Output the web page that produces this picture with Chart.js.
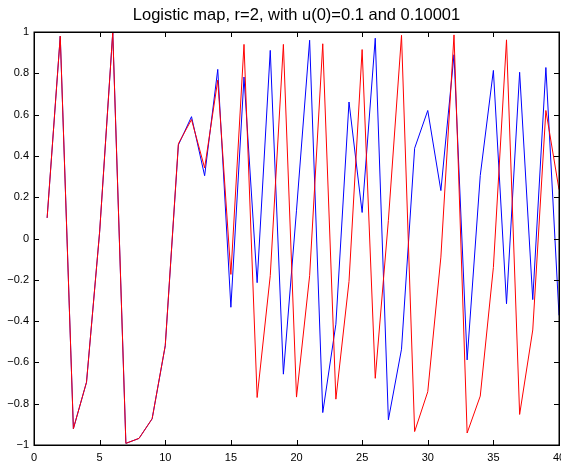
<!DOCTYPE html>
<html>
<head>
<meta charset="utf-8">
<script src="https://cdn.jsdelivr.net/npm/chart.js@4/dist/chart.umd.min.js"></script>
<style>
  html, body { margin: 0; padding: 0; background: #ffffff; }
  #wrap { width: 561px; height: 464px; position: relative; }
</style>
</head>
<body>
<div id="wrap"><canvas id="c" width="561" height="464"></canvas></div>
<script>
// ---- data ----
const steps = [1,2,3,4,5,6,7,8,9,10,11,12,13,14,15,16,17,18,19,20,21,22,23,24,25,26,27,28,29,30,31,32,33,34,35,36,37,38,39,40];
const seriesBlue = [0.1, 0.98, -0.921, -0.696, 0.032, 0.998, -0.992, -0.968, -0.873, -0.52, 0.453, 0.590, 0.304, 0.819, -0.333, 0.782, -0.214, 0.911, -0.657, 0.137, 0.960, -0.843, -0.415, 0.661, 0.126, 0.970, -0.878, -0.536, 0.437, 0.620, 0.232, 0.890, -0.588, 0.305, 0.814, -0.316, 0.805, -0.296, 0.828, -0.372];
const seriesRed = [0.1, 0.98, -0.921, -0.696, 0.032, 0.998, -0.992, -0.968, -0.873, -0.518, 0.459, 0.576, 0.342, 0.767, -0.174, 0.940, -0.770, -0.180, 0.940, -0.768, -0.180, 0.943, -0.778, -0.208, 0.915, -0.677, 0.088, 0.984, -0.935, -0.742, -0.090, 0.986, -0.942, -0.763, -0.140, 0.962, -0.852, -0.443, 0.620, 0.237];
const xTickValues = [0, 5, 10, 15, 20, 25, 30, 35, 40];
const yTickValues = [-1, -0.8, -0.6, -0.4, -0.2, 0, 0.2, 0.4, 0.6, 0.8, 1];
const titleText = 'Logistic map, r=2, with u(0)=0.1 and 0.10001';

const toPoints = (ys) => steps.map((x, i) => ({ x: x, y: ys[i] }));

const fmtY = (v) => {
  const r = Math.round(v * 10) / 10;
  if (r === 0) return '0';
  return (r < 0 ? '\u2212' : '') + String(Math.abs(r));
};

// Box + inward ticks on all four sides (MATLAB style)
const boxPlugin = {
  id: 'boxTicks',
  afterDatasetsDraw(chart) {
    const { ctx, chartArea: a, scales } = chart;
    const xs = scales.x, ys = scales.y;
    const L = 5;
    ctx.save();
    ctx.strokeStyle = '#000';
    ctx.lineWidth = 1;
    ctx.beginPath();
    xTickValues.forEach(v => {
      const px = Math.round(xs.getPixelForValue(v)) + 0.5;
      ctx.moveTo(px, a.bottom); ctx.lineTo(px, a.bottom - L);
      ctx.moveTo(px, a.top); ctx.lineTo(px, a.top + L);
    });
    yTickValues.forEach(v => {
      const py = Math.round(ys.getPixelForValue(v)) + 0.5;
      ctx.moveTo(a.left, py); ctx.lineTo(a.left + L, py);
      ctx.moveTo(a.right, py); ctx.lineTo(a.right - L, py);
    });
    ctx.stroke();
    ctx.lineWidth = 1.5;
    ctx.strokeRect(Math.round(a.left) + 0.25, Math.round(a.top) + 0.25,
                   Math.round(a.right - a.left), Math.round(a.bottom - a.top));
    ctx.restore();
  }
};

new Chart(document.getElementById('c'), {
  type: 'line',
  data: {
    datasets: [
      { label: 'u(0)=0.10001', data: toPoints(seriesRed), borderColor: '#ff0000', borderWidth: 1,
        pointRadius: 0, tension: 0, fill: false, order: 0 },
      { label: 'u(0)=0.1', data: toPoints(seriesBlue), borderColor: '#0000ff', borderWidth: 1,
        pointRadius: 0, tension: 0, fill: false, order: 1 }
    ]
  },
  options: {
    responsive: false,
    animation: false,
    devicePixelRatio: 1,
    layout: { padding: { left: 0, right: 2, top: 0, bottom: 0 } },
    plugins: {
      legend: { display: false },
      tooltip: { enabled: false },
      title: {
        display: true,
        text: titleText,
        fullSize: false,
        color: '#000',
        font: { family: '"Liberation Sans", Arial, sans-serif', size: 16.5, weight: 'normal', lineHeight: 1.2 },
        padding: { top: 5.5, bottom: 6.7 }
      }
    },
    scales: {
      x: {
        type: 'linear', min: 0, max: 40,
        grid: { display: false, drawTicks: false },
        border: { display: false },
        ticks: {
          stepSize: 5, autoSkip: false, maxRotation: 0, padding: 6,
          color: '#000',
          font: { family: '"Liberation Sans", Arial, sans-serif', size: 11 }
        },
        afterFit(s) { s.height = 19; s.paddingLeft = 0; s.paddingRight = 0; }
      },
      y: {
        type: 'linear', min: -1, max: 1,
        grid: { display: false, drawTicks: false },
        border: { display: false },
        ticks: {
          stepSize: 0.2, autoSkip: false, padding: 5,
          color: '#000',
          font: { family: '"Liberation Sans", Arial, sans-serif', size: 11 },
          callback: (v) => fmtY(v)
        },
        afterFit(s) { s.width = 34; s.paddingTop = 0; s.paddingBottom = 0; }
      }
    }
  },
  plugins: [boxPlugin]
});
</script>
</body>
</html>
